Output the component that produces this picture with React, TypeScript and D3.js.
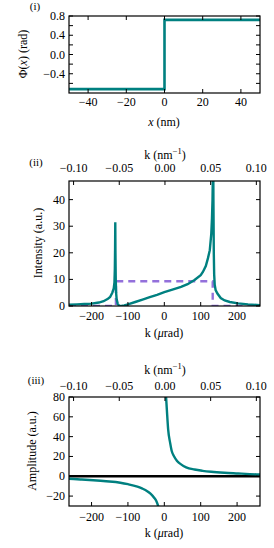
import { useEffect, useRef } from "react";
import * as d3 from "d3";

const TEAL = "#008080";
const PURPLE = "#9370db";
const FONT = "'Liberation Serif', 'DejaVu Serif', serif";

// panel (i): phase step
const phaseX = [-50, 0, 0, 50];
const phaseY = [-0.72, -0.72, 0.72, 0.72];

// panel (ii): intensity
const intK = [
  -262, -240, -220, -200, -180, -167, -155, -149, -143, -139, -137, -136, -135.3, -134.8, -134.3, -133.5, -132.5,
  -131, -128, -124, -118, -110, -100, -80, -60, -40, -20, 0, 20, 46, 64, 83, 100, 106, 114, 120, 125, 129, 131,
  132.5, 133.5, 134.3, 135, 136, 137, 138.5, 141, 146, 155, 166, 180, 203, 230, 263,
];
const intV = [
  0.5, 0.6, 0.75, 0.9, 1.3, 1.8, 2.7, 3.4, 5, 6.6, 9, 14, 22, 31.5, 20, 10, 5, 2.5, 0.8, 0.1, 0, 0.2, 0.6, 1.5,
  2.4, 3.3, 4.2, 5.2, 6.1, 7.2, 8.2, 9.8, 11.6, 12.8, 15, 18, 21, 27, 33, 40, 50, 60, 40, 20, 12, 8, 6, 4.7, 3, 2.1,
  1.5, 1.0, 0.6, 0.3,
];
const apertureK = [-262, -133, -133, 133, 133, 263];
const apertureV = [0, 0, 9.3, 9.3, 0, 0];

// panel (iii): amplitude
const ampNegK = [-262, -230, -195, -160, -121, -100, -74, -60, -47, -38, -28, -22, -16];
const ampNegV = [-2.5, -3.2, -4, -5, -6.5, -8, -10.5, -12.5, -15, -17.5, -21.6, -25, -31];
const ampPosK = [4, 7, 10.6, 16, 20, 27, 35, 46, 60, 83, 105, 129, 165, 203, 235, 263];
const ampPosV = [85, 67, 47, 33.7, 26, 20, 15.5, 12, 9, 6.8, 5.5, 4.5, 3.5, 2.8, 2.2, 1.8];

const xTicksNm = [-40, -20, 0, 20, 40];
const phaseTicks = [0.8, 0.6, 0.4, 0.2, 0, -0.2, -0.4, -0.6];
const phaseLabels = [0.8, 0.4, 0, -0.4];
const kTicks = [-200, -100, 0, 100, 200];
const kInvTicks = [-0.1, -0.05, 0, 0.05, 0.1];
const intTicks = [0, 10, 20, 30, 40];
const ampTicks = [-20, 0, 20, 40, 60, 80];

const left = 69;
const right = 260;
const kDomain: [number, number] = [-262, 263];
const kInvDomain: [number, number] = [-0.105, 0.104];

type Sel = d3.Selection<SVGGElement, unknown, null, undefined>;

function frame(g: Sel, x: any, y: any, top: number, bottom: number, id: string) {
  g.append("clipPath")
    .attr("id", id)
    .append("rect")
    .attr("x", left)
    .attr("y", top)
    .attr("width", right - left)
    .attr("height", bottom - top);
  return g.append("g").attr("clip-path", `url(#${id})`);
}

function box(g: Sel, top: number, bottom: number) {
  g.append("rect")
    .attr("x", left)
    .attr("y", top)
    .attr("width", right - left)
    .attr("height", bottom - top)
    .attr("fill", "none")
    .attr("stroke", "#000")
    .attr("stroke-width", 1.2);
}

function xTicks(g: Sel, x: any, vals: number[], top: number, bottom: number, both: boolean) {
  vals.forEach((v) => {
    g.append("line").attr("x1", x(v)).attr("x2", x(v)).attr("y1", bottom).attr("y2", bottom - 4).attr("stroke", "#000");
    if (both) g.append("line").attr("x1", x(v)).attr("x2", x(v)).attr("y1", top).attr("y2", top + 4).attr("stroke", "#000");
  });
}

function topTicks(g: Sel, x: any, vals: number[], top: number, labelY: number) {
  const f = d3.format(".2f");
  vals.forEach((v) => {
    g.append("line").attr("x1", x(v)).attr("x2", x(v)).attr("y1", top).attr("y2", top + 4).attr("stroke", "#000");
    g.append("text").attr("x", x(v)).attr("y", labelY).attr("text-anchor", "middle").text(f(v));
  });
}

function yTicks(g: Sel, y: any, vals: number[]) {
  vals.forEach((v) => {
    g.append("line").attr("x1", left).attr("x2", left + 4).attr("y1", y(v)).attr("y2", y(v)).attr("stroke", "#000");
    g.append("line").attr("x1", right).attr("x2", right - 4).attr("y1", y(v)).attr("y2", y(v)).attr("stroke", "#000");
  });
}

function yLabels(g: Sel, y: any, vals: number[], fmt: (n: number) => string) {
  vals.forEach((v) => {
    g.append("text")
      .attr("x", left - 4)
      .attr("y", y(v) + 4)
      .attr("text-anchor", "end")
      .text(fmt(v));
  });
}

function kInvTitle(g: Sel, yPos: number) {
  const t = g.append("text").attr("x", 165).attr("y", yPos).attr("text-anchor", "middle");
  t.append("tspan").text("k (nm");
  t.append("tspan").attr("dy", -5).attr("font-size", 8.5).text("\u22121");
  t.append("tspan").attr("dy", 5).text(")");
}

function kTitle(g: Sel, yPos: number) {
  const t = g.append("text").attr("x", 164).attr("y", yPos).attr("text-anchor", "middle");
  t.append("tspan").text("k (");
  t.append("tspan").attr("font-style", "italic").text("\u03bc");
  t.append("tspan").text("rad)");
}

function yTitle(g: Sel, xPos: number, yPos: number, build: (t: any) => void) {
  const t = g
    .append("text")
    .attr("transform", `translate(${xPos},${yPos}) rotate(-90)`)
    .attr("text-anchor", "middle");
  build(t);
}

function drawChart(svgEl: SVGSVGElement) {
  const svg = d3.select(svgEl);
  svg.selectAll("*").remove();
  const root = svg.append("g").attr("font-family", FONT).attr("font-size", 12).attr("fill", "#000") as Sel;

  // ---------- panel (i)
  {
    const top = 16;
    const bottom = 93;
    const x = d3.scaleLinear().domain([-50, 50]).range([left, right]);
    const y = d3.scaleLinear().domain([-0.8, 0.8]).range([bottom, top]);
    const g = root.append("g") as Sel;
    const plot = frame(g, x, y, top, bottom, "clip1");
    const line = d3
      .line<number>()
      .x((_, i) => x(phaseX[i]))
      .y((d) => y(d));
    plot.append("path").attr("d", line(phaseY)).attr("fill", "none").attr("stroke", TEAL).attr("stroke-width", 2.6);
    box(g, top, bottom);
    xTicks(g, x, xTicksNm, top, bottom, true);
    yTicks(g, y, phaseTicks);
    yLabels(g, y, phaseLabels, d3.format(".1f"));
    xTicksNm.forEach((v) => {
      g.append("text").attr("x", x(v)).attr("y", 106).attr("text-anchor", "middle").text(d3.format("d")(v));
    });
    const xt = g.append("text").attr("x", 164).attr("y", 126).attr("text-anchor", "middle");
    xt.append("tspan").attr("font-style", "italic").text("x");
    xt.append("tspan").text(" (nm)");
    yTitle(g, 27, 54, (t) => {
      t.append("tspan").text("\u03a6(");
      t.append("tspan").attr("font-style", "italic").text("x");
      t.append("tspan").text(") (rad)");
    });
    g.append("text").attr("x", 35).attr("y", 10).attr("text-anchor", "middle").attr("font-size", 11).text("(i)");
  }

  // ---------- panel (ii)
  {
    const top = 181;
    const bottom = 306;
    const x = d3.scaleLinear().domain(kDomain).range([left, right]);
    const xInv = d3.scaleLinear().domain(kInvDomain).range([left, right]);
    const y = d3.scaleLinear().domain([0, 47]).range([bottom, top]);
    const g = root.append("g") as Sel;
    const plot = frame(g, x, y, top, bottom, "clip2");
    const dash = d3
      .line<number>()
      .x((_, i) => x(apertureK[i]))
      .y((d) => y(d));
    plot
      .append("path")
      .attr("d", dash(apertureV))
      .attr("fill", "none")
      .attr("stroke", PURPLE)
      .attr("stroke-width", 2.4)
      .attr("stroke-dasharray", "7,5");
    const line = d3
      .line<number>()
      .x((_, i) => x(intK[i]))
      .y((d) => y(d));
    plot.append("path").attr("d", line(intV)).attr("fill", "none").attr("stroke", TEAL).attr("stroke-width", 2.4);
    box(g, top, bottom);
    xTicks(g, x, kTicks, top, bottom, false);
    topTicks(g, xInv, kInvTicks, top, 172);
    yTicks(g, y, intTicks);
    yLabels(g, y, intTicks, d3.format("d"));
    kTicks.forEach((v) => {
      g.append("text").attr("x", x(v)).attr("y", 320).attr("text-anchor", "middle").text(d3.format("d")(v));
    });
    kTitle(g, 337);
    kInvTitle(g, 159);
    yTitle(g, 42, 243, (t) => t.text("Intensity (a.u.)"));
    g.append("text").attr("x", 36).attr("y", 166).attr("text-anchor", "middle").attr("font-size", 11).text("(ii)");
  }

  // ---------- panel (iii)
  {
    const top = 397;
    const bottom = 506;
    const x = d3.scaleLinear().domain(kDomain).range([left, right]);
    const xInv = d3.scaleLinear().domain(kInvDomain).range([left, right]);
    const y = d3.scaleLinear().domain([-30, 80]).range([bottom, top]);
    const g = root.append("g") as Sel;
    const plot = frame(g, x, y, top, bottom, "clip3");
    plot
      .append("line")
      .attr("x1", left)
      .attr("x2", right)
      .attr("y1", y(0))
      .attr("y2", y(0))
      .attr("stroke", "#000")
      .attr("stroke-width", 2.6);
    const neg = d3
      .line<number>()
      .x((_, i) => x(ampNegK[i]))
      .y((d) => y(d));
    const pos = d3
      .line<number>()
      .x((_, i) => x(ampPosK[i]))
      .y((d) => y(d))
      .curve(d3.curveMonotoneX);
    plot.append("path").attr("d", neg.curve(d3.curveMonotoneX)(ampNegV)).attr("fill", "none").attr("stroke", TEAL).attr("stroke-width", 2.4);
    plot.append("path").attr("d", pos(ampPosV)).attr("fill", "none").attr("stroke", TEAL).attr("stroke-width", 2.4);
    box(g, top, bottom);
    xTicks(g, x, kTicks, top, bottom, false);
    topTicks(g, xInv, kInvTicks, top, 390);
    yTicks(g, y, ampTicks);
    yLabels(g, y, ampTicks, d3.format("d"));
    kTicks.forEach((v) => {
      g.append("text").attr("x", x(v)).attr("y", 521).attr("text-anchor", "middle").text(d3.format("d")(v));
    });
    kTitle(g, 537);
    kInvTitle(g, 374);
    yTitle(g, 36, 451, (t) => t.text("Amplitude (a.u.)"));
    g.append("text").attr("x", 36).attr("y", 384).attr("text-anchor", "middle").attr("font-size", 11).text("(iii)");
  }
}

export default function App() {
  const ref = useRef<SVGSVGElement>(null);
  useEffect(() => {
    if (ref.current) drawChart(ref.current);
  }, []);
  return (
    <svg
      ref={ref}
      width={274}
      height={548}
      style={{ position: "absolute", left: 0, top: 0, background: "#fff" }}
    />
  );
}
